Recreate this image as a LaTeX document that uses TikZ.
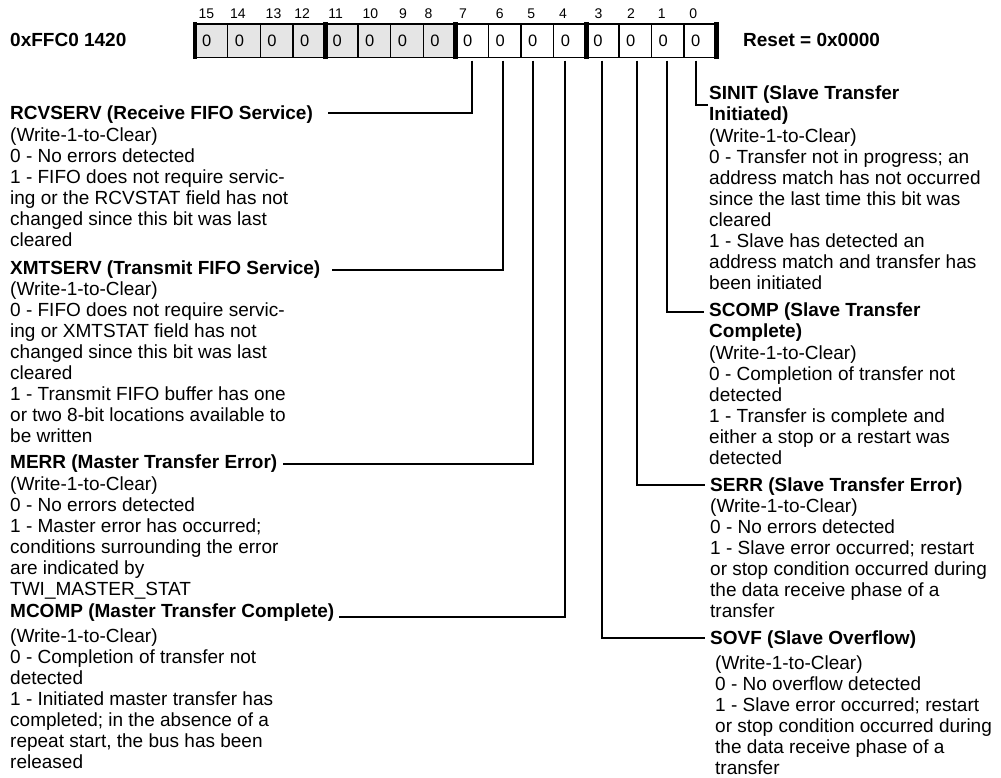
\documentclass[tikz,border=0pt]{standalone}
\usepackage{fontspec}
\setmainfont{Liberation Sans}
\definecolor{regGray}{gray}{0.9}
\newcommand\fieldbody[4]{%
  \foreach \linetext [count=\i] in {#4} {
    \node[txt] (#1-\i) at (#2, #3+21*\i-21) {\linetext};
  }%
}
\begin{document}
\begin{tikzpicture}[x=1pt,y=-1pt,
  txt/.style={font=\fontsize{19}{21}\selectfont, inner sep=0pt, anchor=base west},
  head/.style={font=\fontsize{19}{21}\selectfont\bfseries, inner sep=0pt, anchor=base west},
  cellbox/.style={draw, line width=1.4pt, minimum width=32.6pt, minimum height=33.7pt, inner sep=0pt, outer sep=0pt},
  zero/.style={font=\fontsize{16.5}{18}\selectfont, inner sep=0pt},
  bitnum/.style={font=\fontsize{14}{16}\selectfont, inner sep=0pt},
  thickbar/.style={line width=4.8pt},
  conn/.style={line width=2pt}
]
\useasboundingbox (0,0) rectangle (1001,777);

% register cells
\foreach \b in {8,...,15} {
  \node[cellbox, fill=regGray] (c\b) at (195+15*32.6-\b*32.6+16.3, 40.85) {};
}
\foreach \b in {0,...,7} {
  \node[cellbox, fill=white] (c\b) at (195+15*32.6-\b*32.6+16.3, 40.85) {};
}
\foreach \b in {0,...,15} {
  \node[zero] (z\b) at ([xshift=-4.5pt]c\b.center) {0};
}
\foreach \b/\dx in {15/-5,14/-6,13/-3,12/-7,11/-6,10/-4,9/-4,8/-11,7/-9,6/-5,5/-6,4/-7,3/-4,2/-4,1/-6,0/-7} {
  \node[bitnum] (n\b) at ([xshift=\dx pt,yshift=10pt]c\b.north) {\b};
}
% nibble separators
\foreach \b in {15,11,7,3} {
  \draw[thickbar] ([yshift=2pt]c\b.north west) -- ([yshift=-0.8pt]c\b.south west);
}
\draw[thickbar] ([yshift=2pt]c0.north east) -- ([yshift=-0.8pt]c0.south east);

\node[head] (addr) at (10,46.5) {0xFFC0 1420};
\node[head] (reset) at (743,46.5) {Reset = 0x0000};

% tick points under the bits
\foreach \b/\dx in {7/0,6/-2,5/-4,4/-5,3/-1,2/2,1/-1,0/-4} {
  \coordinate (t\b) at ([xshift=\dx pt,yshift=-3pt]c\b.south);
}

% left column
\node[head] (rcv) at (10,119.5) {RCVSERV (Receive FIFO Service)};
\fieldbody{rcvb}{10}{141}{{(Write-1-to-Clear)},{0 - No errors detected},{1 - FIFO does not require servic-},{ing or the RCVSTAT field has not},{changed since this bit was last},{cleared}}

\node[head] (xmt) at (10,274.5) {XMTSERV (Transmit FIFO Service)};
\fieldbody{xmtb}{10}{295.5}{{(Write-1-to-Clear)},{0 - FIFO does not require servic-},{ing or XMTSTAT field has not},{changed since this bit was last},{cleared},{1 - Transmit FIFO buffer has one},{or two 8-bit locations available to},{be written}}

\node[head] (merr) at (10,468.5) {MERR (Master Transfer Error)};
\fieldbody{merrb}{10}{490}{{(Write-1-to-Clear)},{0 - No errors detected},{1 - Master error has occurred;},{conditions surrounding the error},{are indicated by},{TWI\_MASTER\_STAT}}

\node[head] (mcomp) at (10,617.5) {MCOMP (Master Transfer Complete)};
\fieldbody{mcompb}{10}{642.5}{{(Write-1-to-Clear)},{0 - Completion of transfer not},{detected},{1 - Initiated master transfer has},{completed; in the absence of a},{repeat start, the bus has been},{released}}

% right column
\node[head] (sinit) at (709,99.5) {SINIT (Slave Transfer};
\node[head] (sinit2) at (709,120.5) {Initiated)};
\fieldbody{sinitb}{709}{142}{{(Write-1-to-Clear)},{0 - Transfer not in progress; an},{address match has not occurred},{since the last time this bit was},{cleared},{1 - Slave has detected an},{address match and transfer has},{been initiated}}

\node[head] (scomp) at (709,316.5) {SCOMP (Slave Transfer};
\node[head] (scomp2) at (709,337.5) {Complete)};
\fieldbody{scompb}{709}{359}{{(Write-1-to-Clear)},{0 - Completion of transfer not},{detected},{1 - Transfer is complete and},{either a stop or a restart was},{detected}}

\node[head] (serr) at (710,491) {SERR (Slave Transfer Error)};
\fieldbody{serrb}{710}{512}{{(Write-1-to-Clear)},{0 - No errors detected},{1 - Slave error occurred; restart},{or stop condition occurred during},{the data receive phase of a},{transfer}}

\node[head] (sovf) at (710,644) {SOVF (Slave Overflow)};
\fieldbody{sovfb}{715}{669}{{(Write-1-to-Clear)},{0 - No overflow detected},{1 - Slave error occurred; restart},{or stop condition occurred during},{the data receive phase of a},{transfer}}

% connectors
\draw[conn] (t7) |- ([xshift=15pt,yshift=7pt]rcv.base east);
\draw[conn] (t6) |- ([xshift=12pt,yshift=4.5pt]xmt.base east);
\draw[conn] (t5) |- ([xshift=5pt,yshift=4.5pt]merr.base east);
\draw[conn] (t4) |- ([xshift=4pt,yshift=1pt]mcomp.base east);
\draw[conn] (t0) |- ([xshift=-1.5pt,yshift=-5.5pt]sinit.base west);
\draw[conn] (t1) |- ([xshift=-5pt,yshift=4.5pt]scomp.base west);
\draw[conn] (t2) |- ([xshift=-5pt,yshift=6pt]serr.base west);
\draw[conn] (t3) |- ([xshift=-5pt,yshift=6pt]sovf.base west);
\end{tikzpicture}
\end{document}
